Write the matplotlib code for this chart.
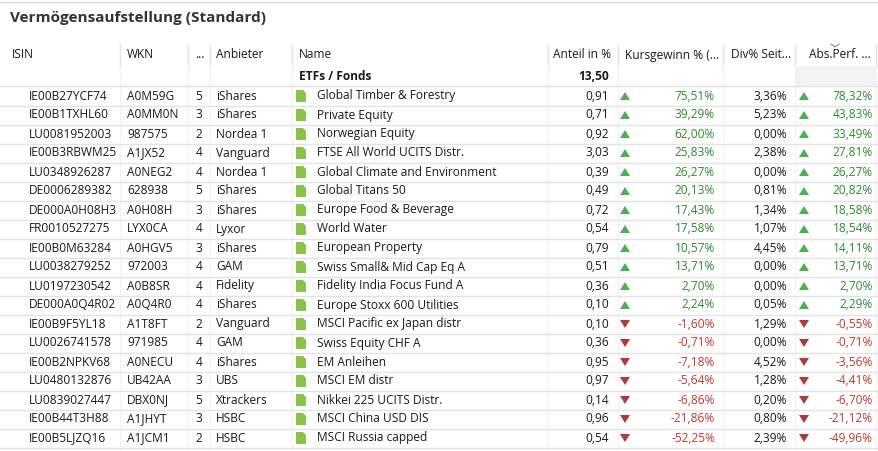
import numpy as np
import matplotlib.pyplot as plt
from matplotlib.patches import Rectangle, Polygon

# ============================================================
# Data
# ============================================================

isin = ["IE00B27YCF74", "IE00B1TXHL60", "LU0081952003", "IE00B3RBWM25", "LU0348926287",
        "DE0006289382", "DE000A0H08H3", "FR0010527275", "IE00B0M63284", "LU0038279252",
        "LU0197230542", "DE000A0Q4R02", "IE00B9F5YL18", "LU0026741578", "IE00B2NPKV68",
        "LU0480132876", "LU0839027447", "IE00B44T3H88", "IE00B5LJZQ16"]
wkn = ["A0M59G", "A0MM0N", "987575", "A1JX52", "A0NEG2", "628938", "A0H08H", "LYX0CA",
       "A0HGV5", "972003", "A0B8SR", "A0Q4R0", "A1T8FT", "971985", "A0NECU", "UB42AA",
       "DBX0NJ", "A1JHYT", "A1JCM1"]
rank = [5, 3, 2, 4, 4, 5, 3, 4, 3, 4, 4, 4, 2, 4, 4, 3, 5, 3, 2]
anbieter = ["iShares", "iShares", "Nordea 1", "Vanguard", "Nordea 1", "iShares", "iShares",
            "Lyxor", "iShares", "GAM", "Fidelity", "iShares", "Vanguard", "GAM", "iShares",
            "UBS", "Xtrackers", "HSBC", "HSBC"]
names = ["Global Timber & Forestry", "Private Equity", "Norwegian Equity",
         "FTSE All World UCITS Distr.", "Global Climate and Environment", "Global Titans 50",
         "Europe Food & Beverage", "World Water", "European Property",
         "Swiss Small& Mid Cap Eq A", "Fidelity India Focus Fund A", "Europe Stoxx 600 Utilities",
         "MSCI Pacific ex Japan distr", "Swiss Equity CHF A", "EM Anleihen", "MSCI EM distr",
         "Nikkei 225 UCITS Distr.", "MSCI China USD DIS", "MSCI Russia capped"]
anteil = [0.91, 0.71, 0.92, 3.03, 0.39, 0.49, 0.72, 0.54, 0.79, 0.51, 0.36, 0.10,
          0.10, 0.36, 0.95, 0.97, 0.14, 0.96, 0.54]
kurs = [75.51, 39.29, 62.00, 25.83, 26.27, 20.13, 17.43, 17.58, 10.57, 13.71, 2.70, 2.24,
        -1.60, -0.71, -7.18, -5.64, -6.86, -21.86, -52.25]
div = [3.36, 5.23, 0.00, 2.38, 0.00, 0.81, 1.34, 1.07, 4.45, 0.00, 0.00, 0.05,
       1.29, 0.00, 4.52, 1.28, 0.20, 0.80, 2.39]
absperf = [78.32, 43.83, 33.49, 27.81, 26.27, 20.82, 18.58, 18.54, 14.11, 13.71, 2.70, 2.29,
           -0.55, -0.71, -3.56, -4.41, -6.70, -21.12, -49.96]
total = 13.50

headers = ["ISIN", "WKN", "...", "Anbieter", "Name", "Anteil in %", "Kursgewinn % (...",
           "Div% Seit...", "Abs.Perf. ..."]

def de(v):
    return ("%.2f" % v).replace(".", ",")

# ============================================================
# Plot
# ============================================================

plt.rcParams['font.family'] = ['Open Sans', 'DejaVu Sans']
fig = plt.figure(figsize=(8.79, 4.51), dpi=100)
ax = fig.add_axes([0, 0, 1, 1])
ax.set_xlim(0, 879)
ax.set_ylim(451, 0)
ax.axis("off")

fs = 8.6
txt = "#1a1a1a"
green = "#2e8b2e"
red = "#c0392b"
arrow_g = "#4caf50"
arrow_r = "#b03a3a"
line_c = "#e4e4e4"

ax.plot([0, 879], [2, 2], color="#d8d8d8", lw=1)
ax.text(10, 18, "Vermögensaufstellung (Standard)", fontsize=11, fontweight="bold",
        color="#333333", va="center")

# grey background of last column
ax.add_patch(Rectangle((795, 66), 81, 20, color="#f3f3f3", lw=0))

col_sep = [120, 188, 210, 292, 548, 618, 723, 795, 876]
for x in col_sep:
    ax.plot([x, x], [44, 66], color=line_c, lw=1)
    ax.plot([x, x], [66, 451], color="#f2f2f2", lw=0.8)

hx = [12, 127, 195, 216, 299, 611, 625, 731, 809]
for x, h in zip(hx, headers):
    ha = "right" if h == "Anteil in %" else "left"
    ax.text(x, 55, h, fontsize=fs, color=txt, va="center", ha=ha)
ax.plot([831, 835, 839], [44, 47, 44], color="#888888", lw=0.8)

ax.text(299, 76, "ETFs / Fonds", fontsize=fs, fontweight="bold", color=txt, va="center")
ax.text(609, 76, de(total), fontsize=fs, fontweight="bold", color=txt, va="center", ha="right")
ax.plot([0, 879], [86, 86], color=line_c, lw=1)

for i in range(len(isin)):
    y = 96 + i * 19
    ax.plot([0, 879], [y + 10, y + 10], color=line_c, lw=1)
    ax.text(29, y, isin[i], fontsize=fs, color=txt, va="center")
    ax.text(127, y, wkn[i], fontsize=fs, color=txt, va="center")
    ax.text(199, y, str(rank[i]), fontsize=fs, color=txt, va="center", ha="center")
    ax.text(216, y, anbieter[i], fontsize=fs, color=txt, va="center")
    ax.add_patch(Polygon([(296, y - 6), (303, y - 6), (306, y - 3), (306, y + 6), (296, y + 6)],
                         color="#8bc34a", lw=0))
    ax.text(317, y, names[i], fontsize=fs, color=txt, va="center")
    ax.text(609, y, de(anteil[i]), fontsize=fs, color=txt, va="center", ha="right")
    for ax_x, vx, v in [(625, 715, kurs[i]), (804, 873, absperf[i])]:
        if v >= 0:
            ax.add_patch(Polygon([(ax_x - 5, y + 4), (ax_x + 5, y + 4), (ax_x, y - 4)],
                                 color=arrow_g, lw=0))
            c = green
        else:
            ax.add_patch(Polygon([(ax_x - 5, y - 4), (ax_x + 5, y - 4), (ax_x, y + 4)],
                                 color=arrow_r, lw=0))
            c = red
        ax.text(vx, y, de(v) + "%", fontsize=fs, color=c, va="center", ha="right")
    ax.text(787, y, de(div[i]) + "%", fontsize=fs, color=txt, va="center", ha="right")

fig.savefig("out.png", dpi=100)
